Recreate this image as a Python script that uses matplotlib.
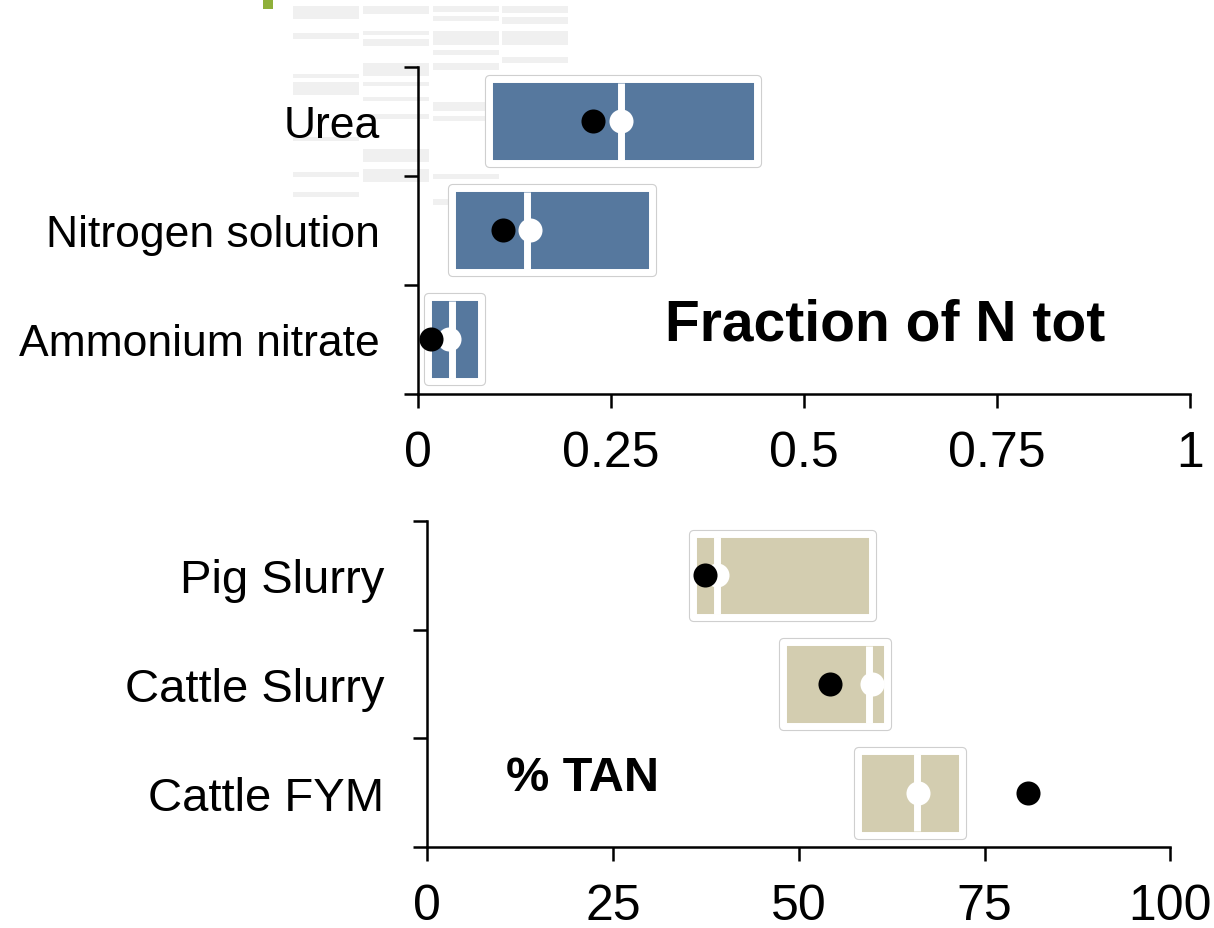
import matplotlib.pyplot as plt
import matplotlib.patheffects as pe
from matplotlib.patches import Rectangle

plt.rcParams['font.family'] = ['Liberation Sans', 'DejaVu Sans']

# mineral fertilisers, fraction of total N
min_names = ['Ammonium nitrate', 'Nitrogen solution', 'Urea']
min_low = [0.013, 0.044, 0.093]
min_high = [0.082, 0.304, 0.439]
min_median = [0.044, 0.142, 0.264]
min_mean = [0.041, 0.145, 0.264]
min_model = [0.017, 0.110, 0.227]

# manures, % of TAN
man_names = ['Cattle FYM', 'Cattle Slurry', 'Pig Slurry']
man_low = [57.9, 47.9, 35.8]
man_high = [71.9, 61.9, 59.9]
man_median = [65.9, 59.4, 39.0]
man_mean = [66.1, 59.8, 39.0]
man_model = [80.9, 54.2, 37.4]

fig = plt.figure(figsize=(12.14, 9.29), dpi=100)

# faded table in the corner behind the top panel
cols = [293, 363, 433, 502]
rows = [
    [(7, 20), (34, 40), (75, 79), (83, 96), (138, 142), (173, 178), (193, 198)],
    [(7, 15), (32, 36), (40, 47), (64, 77), (83, 87), (98, 102), (115, 120), (150, 163), (170, 183)],
    [(7, 13), (17, 22), (32, 46), (51, 56), (64, 71), (103, 112), (117, 122), (175, 180), (200, 206)],
    [(7, 14), (18, 25), (32, 46), (58, 64)],
]
W, H = 1214, 929
for cx, rr in zip(cols, rows):
    for y0, y1 in rr:
        fig.add_artist(Rectangle((cx / W, 1 - y1 / H), 66 / W, (y1 - y0) / H,
                                 transform=fig.transFigure, color='#f0f0f0', lw=0, zorder=0))
fig.add_artist(Rectangle((263 / W, 1 - 10 / H), 10 / W, 10 / H,
                         transform=fig.transFigure, color='#8fb03a', lw=0, zorder=0))

ax1 = fig.add_axes([0.344, 0.575, 0.636, 0.352])
ax2 = fig.add_axes([0.352, 0.087, 0.612, 0.351])
ax1.patch.set_alpha(0)
ax2.patch.set_alpha(0)

def panel(ax, names, low, high, median, mean, model, color, xmax, ticks, ticklabels, labelsize):
    ypos = range(len(names))
    h = 0.77
    widths = [hi - lo for lo, hi in zip(low, high)]
    ax.barh(ypos, widths, left=low, height=h, color=color, edgecolor='white',
            linewidth=5, joinstyle='round', zorder=2,
            path_effects=[pe.Stroke(linewidth=6.6, foreground='#cfcfcf'), pe.Normal()])
    for y, m in zip(ypos, median):
        ax.vlines(m, y - h / 2 + 0.03, y + h / 2 - 0.03, color='white', lw=5, zorder=3)
    ax.scatter(mean, ypos, s=300, color='white', zorder=4, linewidths=0)
    ax.scatter(model, ypos, s=300, color='black', zorder=5, linewidths=0)

    ax.set_xlim(0, xmax)
    ax.set_ylim(-0.5, len(names) - 0.5)
    ax.set_xticks(ticks)
    ax.set_xticklabels(ticklabels)
    ax.set_yticks([i - 0.5 for i in range(len(names) + 1)])
    ax.set_yticklabels([])
    ax.set_yticks(list(ypos), minor=True)
    ax.set_yticklabels(names, minor=True)
    ax.tick_params(axis='y', which='minor', length=0, labelsize=labelsize, pad=27)
    ax.tick_params(axis='y', which='major', length=10, width=1.8)
    ax.tick_params(axis='x', length=10, width=1.8, labelsize=36, pad=16)
    for s in ['top', 'right']:
        ax.spines[s].set_visible(False)
    for s in ['left', 'bottom']:
        ax.spines[s].set_linewidth(1.8)

panel(ax1, min_names, min_low, min_high, min_median, min_mean, min_model,
      '#56789e', 1, [0, 0.25, 0.5, 0.75, 1], ['0', '0.25', '0.5', '0.75', '1'], 32)
panel(ax2, man_names, man_low, man_high, man_median, man_mean, man_model,
      '#d3cdb0', 100, [0, 25, 50, 75, 100], ['0', '25', '50', '75', '100'], 34)
ax2.tick_params(axis='y', which='minor', pad=31)

ax1.text(0.605, 0.14, 'Fraction of N tot', fontsize=41, fontweight='bold',
         ha='center', va='center')
ax2.text(20.9, 0.14, '% TAN', fontsize=35, fontweight='bold',
         ha='center', va='center')

fig.savefig('out.png', dpi=100)
